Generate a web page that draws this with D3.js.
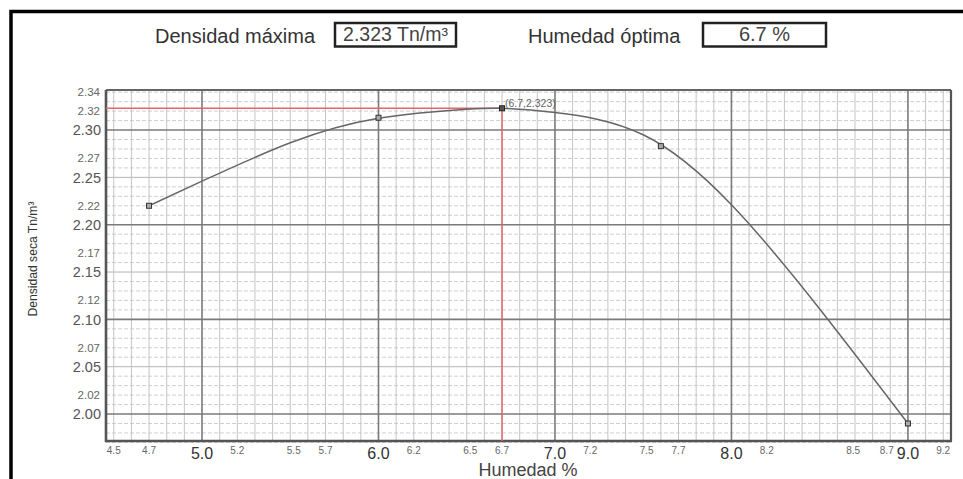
<!DOCTYPE html>
<html><head><meta charset="utf-8">
<script src="https://cdn.jsdelivr.net/npm/d3@7"></script>
<style>body{margin:0;background:#fff}svg{display:block;font-family:"Liberation Sans",Arial,sans-serif}</style>
</head><body>
<svg id="c" width="963" height="479"></svg>
<script>
// ---- data ----
const maxDensity = "2.323 Tn/m³";
const optMoisture = "6.7 %";
const optHumedad = 6.7;
const optDensidad = 2.323;
const measuredHumedad = [4.7, 6.0, 7.6, 9.0];
const measuredDensidad = [2.220, 2.313, 2.283, 1.990];
const curveHumedad  = [4.7, 5.0, 5.5, 6.0, 6.5, 6.7, 7.0, 7.5, 8.0, 8.5, 9.0];
const curveDensidad = [2.220, 2.246, 2.2865, 2.3125, 2.322, 2.323, 2.3185, 2.295, 2.221, 2.111, 1.990];
const xMajorTicks = [5.0, 6.0, 7.0, 8.0, 9.0];
const xMinorLabels = ["4.5","4.7","5.2","5.5","5.7","6.2","6.5","6.7","7.2","7.5","7.7","8.2","8.5","8.7","9.2"];
const xMinorLabelAt = [4.5, 4.7, 5.2, 5.52, 5.7, 6.2, 6.52, 6.7, 7.2, 7.52, 7.7, 8.2, 8.69, 8.88, 9.2];
const yBigTicks = [2.30, 2.25, 2.20, 2.15, 2.10, 2.05, 2.00];
const ySmallTicks = [2.34, 2.32, 2.27, 2.22, 2.17, 2.12, 2.07, 2.02];

const svg = d3.select("#c");
const L = 106, R = 951, T = 90, B = 441;
const x = d3.scaleLinear().domain([4.456, 9.244]).range([L, R]);
const y = d3.scaleLinear().domain([1.9715, 2.3423]).range([B, T]);

// outer frame
svg.append("rect").attr("x", 11).attr("y", 11.5).attr("width", 980).attr("height", 500)
  .attr("fill", "none").attr("stroke", "#000").attr("stroke-width", 3.5);

// header
const hdr = svg.append("g").attr("fill", "#333").attr("font-size", 20);
hdr.append("text").attr("x", 155).attr("y", 43).text("Densidad máxima");
hdr.append("text").attr("x", 528).attr("y", 43).text("Humedad óptima");
svg.append("rect").attr("x", 335).attr("y", 23).attr("width", 121).attr("height", 23.5)
  .attr("fill", "#fff").attr("stroke", "#222").attr("stroke-width", 2.5);
svg.append("rect").attr("x", 703).attr("y", 23).attr("width", 123).attr("height", 23.5)
  .attr("fill", "#fff").attr("stroke", "#222").attr("stroke-width", 2.5);
svg.append("text").attr("x", 395.5).attr("y", 40.5).attr("text-anchor", "middle")
  .attr("font-size", 19.5).attr("fill", "#444").text(maxDensity);
svg.append("text").attr("x", 764.5).attr("y", 40.5).attr("text-anchor", "middle")
  .attr("font-size", 20).attr("fill", "#444").text(optMoisture);

// grid
const g = svg.append("g");
const hundredths = d3.range(197, 235).map(v => v / 100);
hundredths.forEach(v => {
  const k = Math.round(v * 100);
  if (k % 10 === 0) return;
  const solid = k % 5 === 0;
  g.append("line").attr("x1", L).attr("x2", R).attr("y1", y(v)).attr("y2", y(v))
    .attr("stroke", solid ? "#b4b4b4" : "#cfcfcf").attr("stroke-width", 1)
    .attr("stroke-dasharray", solid ? null : "4,2");
});
const tenths = d3.range(45, 93).map(v => v / 10);
tenths.forEach(v => {
  if (Math.round(v * 10) % 10 === 0) return;
  g.append("line").attr("x1", x(v)).attr("x2", x(v)).attr("y1", T).attr("y2", B)
    .attr("stroke", "#c4c4c4").attr("stroke-width", 1);
});
[2.0, 2.1, 2.2, 2.3].forEach(v => {
  g.append("line").attr("x1", L).attr("x2", R).attr("y1", y(v)).attr("y2", y(v))
    .attr("stroke", "#7a7a7a").attr("stroke-width", 1.6);
});
xMajorTicks.forEach(v => {
  g.append("line").attr("x1", x(v)).attr("x2", x(v)).attr("y1", T).attr("y2", B)
    .attr("stroke", "#7a7a7a").attr("stroke-width", 1.6);
});

// plot border
svg.append("line").attr("x1", L).attr("x2", R).attr("y1", T).attr("y2", T).attr("stroke", "#666").attr("stroke-width", 2);
svg.append("line").attr("x1", R).attr("x2", R).attr("y1", T).attr("y2", B).attr("stroke", "#555").attr("stroke-width", 2.2);
svg.append("line").attr("x1", L).attr("x2", L).attr("y1", T).attr("y2", B + 1).attr("stroke", "#555").attr("stroke-width", 2.6);
svg.append("line").attr("x1", L - 1).attr("x2", R + 1).attr("y1", B).attr("y2", B).attr("stroke", "#555").attr("stroke-width", 2.6);

// y tick labels
const yl = svg.append("g").attr("text-anchor", "end").attr("fill", "#555");
yBigTicks.forEach(v => yl.append("text").attr("x", 101).attr("y", y(v)).attr("dy", "0.36em")
  .attr("font-size", 14.5).text(v.toFixed(2)));
ySmallTicks.forEach(v => yl.append("text").attr("x", 100).attr("y", y(v)).attr("dy", "0.33em")
  .attr("font-size", 11.5).attr("fill", "#666").text(v.toFixed(2)));

// x tick labels
const xl = svg.append("g").attr("text-anchor", "middle");
xMajorTicks.forEach(v => xl.append("text").attr("x", x(v)).attr("y", 458.5)
  .attr("font-size", 16).attr("fill", "#333").text(v.toFixed(1)));
xMinorLabels.forEach((t, i) => xl.append("text").attr("x", x(xMinorLabelAt[i])).attr("y", 454)
  .attr("font-size", 10).attr("fill", "#666").text(t));

// axis titles
svg.append("text").attr("x", 528).attr("y", 476).attr("text-anchor", "middle")
  .attr("font-size", 18).attr("fill", "#444").text("Humedad %");
svg.append("text").attr("transform", "translate(37,259) rotate(-90)").attr("text-anchor", "middle")
  .attr("font-size", 13).attr("fill", "#333").attr("textLength", 115).attr("lengthAdjust", "spacingAndGlyphs")
  .text("Densidad seca Tn/m³");

// red optimum lines
svg.append("line").attr("x1", L).attr("x2", x(optHumedad)).attr("y1", y(optDensidad)).attr("y2", y(optDensidad))
  .attr("stroke", "#e06868").attr("stroke-width", 1.5);
svg.append("line").attr("x1", x(optHumedad)).attr("x2", x(optHumedad)).attr("y1", B).attr("y2", y(optDensidad))
  .attr("stroke", "#e06868").attr("stroke-width", 1.5);

// curve
const pts = curveHumedad.map((h, i) => [h, curveDensidad[i]]);
svg.append("path").datum(pts)
  .attr("d", d3.line().x(d => x(d[0])).y(d => y(d[1])).curve(d3.curveNatural))
  .attr("fill", "none").attr("stroke", "#666").attr("stroke-width", 1.5);

// markers
measuredHumedad.forEach((h, i) => {
  svg.append("rect").attr("x", x(h) - 2.5).attr("y", y(measuredDensidad[i]) - 2.5)
    .attr("width", 5).attr("height", 5).attr("fill", "#aaa").attr("stroke", "#333").attr("stroke-width", 1);
});
svg.append("rect").attr("x", x(optHumedad) - 2.5).attr("y", y(optDensidad) - 2.5)
  .attr("width", 5).attr("height", 5).attr("fill", "#555").attr("stroke", "#222").attr("stroke-width", 1);
svg.append("text").attr("x", x(optHumedad) + 3).attr("y", y(optDensidad) - 1.5)
  .attr("font-size", 10.5).attr("fill", "#666").text("(" + optHumedad + "," + optDensidad + ")");
</script>
</body></html>
